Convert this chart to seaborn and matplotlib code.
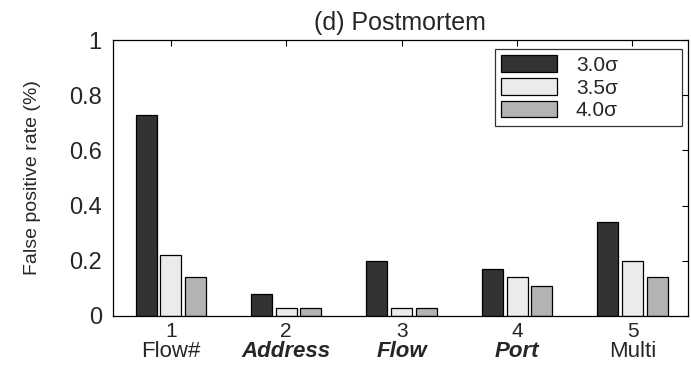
import matplotlib
matplotlib.use("Agg")
import matplotlib.pyplot as plt
import seaborn as sns
import pandas as pd
from matplotlib.transforms import blended_transform_factory

categories = ["1", "2", "3", "4", "5"]
names = ["Flow#", "Address", "Flow", "Port", "Multi"]
name_bold_italic = [False, True, True, True, False]
series = ["3.0σ", "3.5σ", "4.0σ"]
vals_30 = [0.73, 0.08, 0.20, 0.17, 0.34]
vals_35 = [0.22, 0.03, 0.03, 0.14, 0.20]
vals_40 = [0.14, 0.03, 0.03, 0.11, 0.14]
colors = ["#333333", "#ebebeb", "#b3b3b3"]

rows = []
for s, vals in zip(series, [vals_30, vals_35, vals_40]):
    for c, v in zip(categories, vals):
        rows.append({"cat": c, "series": s, "val": v})
df = pd.DataFrame(rows)

sns.set_theme(style="white")
plt.rcParams["font.family"] = ["Liberation Sans", "DejaVu Sans"]

fig = plt.figure(figsize=(6.91, 3.67), dpi=100)
ax = fig.add_axes([0.1635, 0.139, 0.832, 0.752])

sns.barplot(data=df, x="cat", y="val", hue="series", palette=colors,
            width=0.64, gap=0.15, edgecolor="black", linewidth=0.9,
            saturation=1, ax=ax, legend=True)

ax.set_xlim(-0.5, 4.48)
ax.set_ylim(0, 1)
ax.set_yticks([0, 0.2, 0.4, 0.6, 0.8, 1])
ax.set_yticklabels(["0", "0.2", "0.4", "0.6", "0.8", "1"])
ax.set_xlabel("")
ax.set_ylabel("False positive rate (%)", fontsize=14)
ax.yaxis.set_label_coords(-0.125, 0.5)
ax.set_title("(d) Postmortem", fontsize=18, pad=7)
ax.tick_params(axis="both", direction="in", top=True, right=True,
               length=4, width=0.8, color="black")
ax.tick_params(axis="x", pad=4, labelsize=15)
ax.tick_params(axis="y", pad=8, labelsize=17)
for sp in ax.spines.values():
    sp.set_color("black")
    sp.set_linewidth(0.9)

trans = blended_transform_factory(ax.transData, ax.transAxes)
for i, (n, bi) in enumerate(zip(names, name_bold_italic)):
    ax.text(i, -0.148, n, transform=trans, ha="center", va="baseline", fontsize=16,
            fontweight="bold" if bi else "normal",
            fontstyle="italic" if bi else "normal")

leg = ax.legend(loc="upper left", fontsize=15, frameon=True, fancybox=False,
                edgecolor="black", handlelength=2.7, handleheight=0.85,
                borderpad=0.3, labelspacing=0.15, handletextpad=0.9,
                borderaxespad=0.0, mode="expand",
                bbox_to_anchor=(0.664, 0.5, 0.325, 0.467))
leg.get_frame().set_linewidth(0.9)

fig.savefig("out.png", dpi=100)
